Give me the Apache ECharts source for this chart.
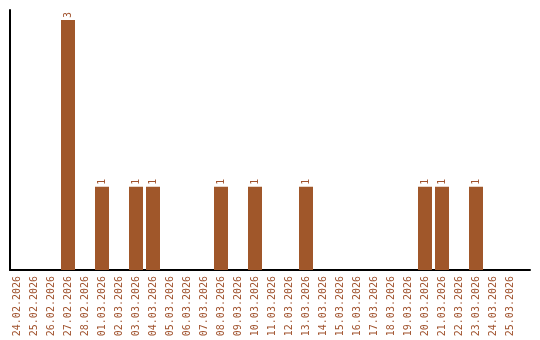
<!DOCTYPE html>
<html><head><meta charset="utf-8">
<script src="https://cdn.jsdelivr.net/npm/echarts@6/dist/echarts.min.js"></script>
<style>html,body{margin:0;padding:0;background:#fff}#c{width:540px;height:340px}</style>
</head><body><div id="c"></div>
<script>
var categories = ["24.02.2026","25.02.2026","26.02.2026","27.02.2026","28.02.2026","01.03.2026","02.03.2026","03.03.2026","04.03.2026","05.03.2026","06.03.2026","07.03.2026","08.03.2026","09.03.2026","10.03.2026","11.03.2026","12.03.2026","13.03.2026","14.03.2026","15.03.2026","16.03.2026","17.03.2026","18.03.2026","19.03.2026","20.03.2026","21.03.2026","22.03.2026","23.03.2026","24.03.2026","25.03.2026"];
var values = [0,0,0,3,0,1,0,1,1,0,0,0,1,0,1,0,0,1,0,0,0,0,0,0,1,1,0,1,0,0];
var chart = echarts.init(document.getElementById('c'), null, {renderer:'canvas'});
chart.setOption({
  animation:false,
  grid:[{left:8.5,right:21.5,top:10,bottom:70},{left:10,right:10,top:10,bottom:70}],
  xAxis:[{type:'category',data:categories,gridIndex:0,
    axisLine:{show:false},
    axisTick:{show:false},
    axisLabel:{rotate:90,interval:0,color:'#A0522D',fontFamily:'DejaVu Sans Mono',fontSize:10,margin:6}},
    {type:'value',gridIndex:1,min:0,max:1,axisLine:{show:true,onZero:false,lineStyle:{color:'#000',width:2}},
     axisTick:{show:false},axisLabel:{show:false},splitLine:{show:false}}],
  yAxis:[{type:'value',gridIndex:0,min:0,max:3.12,
    axisLine:{show:false},axisTick:{show:false},axisLabel:{show:false},splitLine:{show:false}},
    {type:'value',gridIndex:1,min:0,max:1,axisLine:{show:true,onZero:false,lineStyle:{color:'#000',width:2}},
     axisTick:{show:false},axisLabel:{show:false},splitLine:{show:false}}],
  series:[{type:'bar',xAxisIndex:0,yAxisIndex:0,data:values.map(function(v){return v===0?null:v;}),barWidth:14,
    itemStyle:{color:'#A0572A'},
    label:{show:true,position:'top',rotate:90,align:'left',verticalAlign:'middle',distance:2,
      color:'#A0522D',fontFamily:'DejaVu Sans Mono',fontSize:10}}]
});
</script></body></html>
